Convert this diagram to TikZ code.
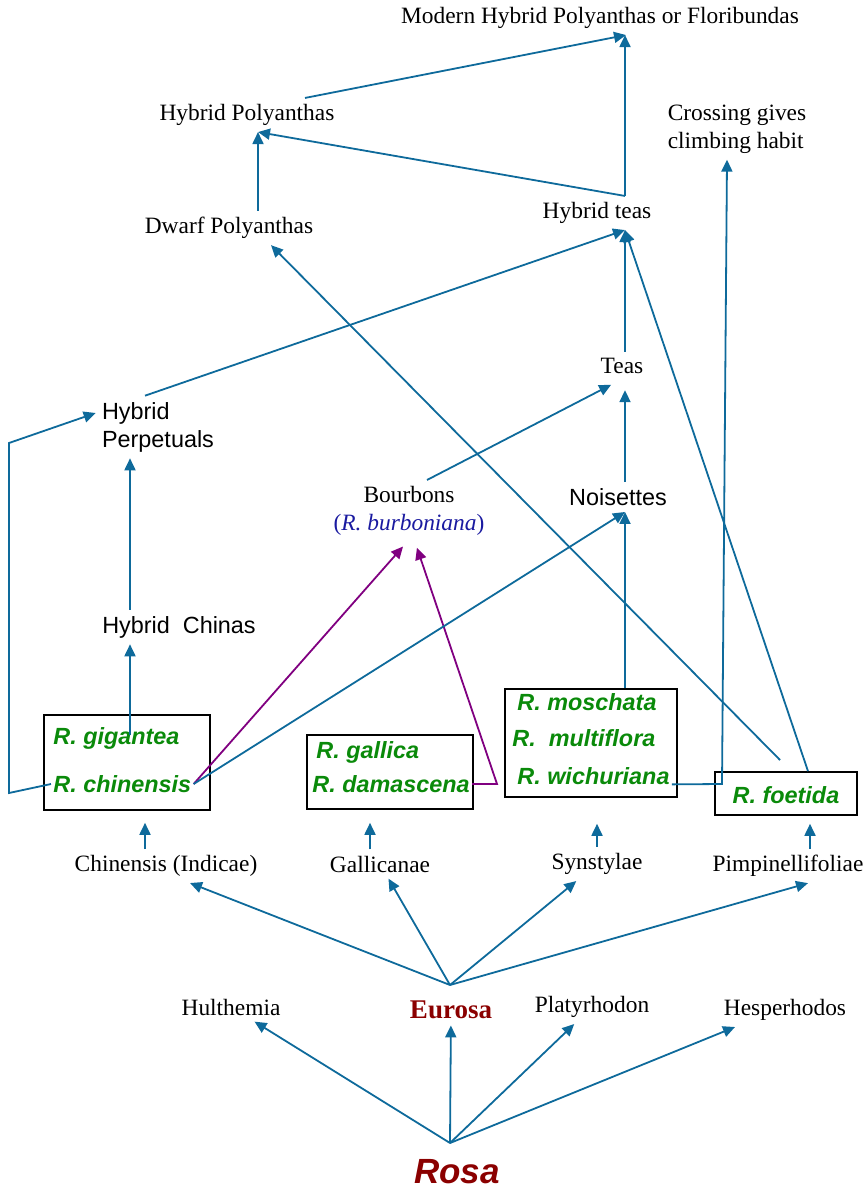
\documentclass[tikz,border=0pt]{standalone}
\usepackage{fontspec}
\setmainfont{Liberation Serif}
\setsansfont{Liberation Sans}
\usepackage{xcolor}
\definecolor{lineBlue}{HTML}{0E6A9B}
\definecolor{speciesGreen}{HTML}{0A8A0A}
\definecolor{rosaRed}{HTML}{8B0000}
\definecolor{hybridPurple}{HTML}{800080}
\definecolor{latinBlue}{HTML}{1A1AA0}
\usepackage{tikz}
\usetikzlibrary{arrows.meta, positioning}

\begin{document}
\begin{tikzpicture}[
    x=0.5pt, y=-0.5pt,
    font=\fontsize{11.7}{14}\selectfont,
    groupNode/.style={inner sep=3pt, align=center},
    sansNode/.style={inner sep=3pt, align=left, font=\fontsize{11.7}{14}\selectfont\sffamily},
    speciesNode/.style={inner sep=1pt, anchor=west, font=\fontsize{11.7}{14}\selectfont\sffamily\bfseries\itshape\color{speciesGreen}},
    boxNode/.style={draw, line width=0.8pt, inner sep=0pt},
    arrLine/.style={-{Triangle[length=6pt, width=5.5pt]}, line width=0.9pt, color=lineBlue},
    purpLine/.style={arrLine, color=hybridPurple}
]
\useasboundingbox (0,0) rectangle (864,1192);

% Species boxes
\node[boxNode, minimum width=83pt, minimum height=47.5pt] (box1) at (127,762.5) {};
\node[boxNode, minimum width=83pt, minimum height=37pt] (box2) at (390,772) {};
\node[boxNode, minimum width=86pt, minimum height=54pt] (box3) at (591,743) {};
\node[boxNode, minimum width=71pt, minimum height=21.5pt] (box4) at (786,793.5) {};

\node[speciesNode] (gigantea) at (51,738) {R. gigantea};
\node[speciesNode] (chinensis) at (51,784) {R. chinensis};
\node[speciesNode] (gallica) at (314,752) {R. gallica};
\node[speciesNode] (damascena) at (310,784) {R. damascena};
\node[speciesNode] (moschata) at (515,702) {R. moschata};
\node[speciesNode] (multiflora) at (510,738) {R.\ \ multiflora};
\node[speciesNode] (wichuriana) at (515,776) {R. wichuriana};
\node[speciesNode, anchor=center] (foetida) at (786,795) {R. foetida};

% Garden groups
\node[groupNode] (modern) at (600,18) {Modern Hybrid Polyanthas or Floribundas};
\node[groupNode] (hPoly) at (247,115) {Hybrid Polyanthas};
\node[groupNode, align=left] (crossing) at (737,129) {Crossing gives\\climbing habit};
\node[groupNode] (hTeas) at (597,213) {Hybrid teas};
\node[groupNode] (dwarf) at (229,228) {Dwarf Polyanthas};
\node[groupNode] (teas) at (622,366) {Teas};
\node[sansNode] (hPerp) at (158,427) {Hybrid\\Perpetuals};
\node[groupNode] (bourbons) at (409,511) {Bourbons\\{\color{latinBlue}(\textit{R. burboniana})}};
\node[sansNode] (noisettes) at (618,497) {Noisettes};
\node[sansNode] (hChinas) at (179,627) {Hybrid\ \ Chinas};

% Sections and subgenera
\node[groupNode] (chinSec) at (166,866) {Chinensis (Indicae)};
\node[groupNode] (gallSec) at (380,864) {Gallicanae};
\node[groupNode] (synSec) at (597,864) {Synstylae};
\node[groupNode] (pimpSec) at (788,866) {Pimpinellifoliae};

\node[groupNode] (hulthemia) at (231,1007) {Hulthemia};
\node[groupNode, font=\fontsize{13.5}{16}\selectfont\bfseries\color{rosaRed}] (eurosa) at (451,1010) {Eurosa};
\node[groupNode] (platy) at (592,1007) {Platyrhodon};
\node[groupNode] (hesper) at (785,1010) {Hesperhodos};
\node[groupNode, font=\fontsize{17.5}{20}\selectfont\sffamily\bfseries\itshape\color{rosaRed}] (rosa) at (457,1172) {Rosa};

\coordinate (rosaHub) at (450,1143);
\coordinate (eurosaHub) at (450,985);

% Rosa to subgenera, Eurosa to sections
\foreach \target in {hulthemia, eurosa, platy}
    \draw[arrLine] (rosaHub) -- (\target);
\draw[arrLine] (rosaHub) -- ([xshift=-25pt]hesper.south);
\draw[arrLine] (eurosaHub) -- ([xshift=12pt]chinSec.south);
\draw[arrLine] (eurosaHub) -- (gallSec);
\draw[arrLine] (eurosaHub) -- (synSec);
\draw[arrLine] (eurosaHub) -- ([xshift=10pt]pimpSec.south);

\foreach \sec/\grp/\dx/\gap in {chinSec/box1/-10.5pt/6pt, gallSec/box2/-5pt/6.5pt, synSec/box3/0pt/13pt, pimpSec/box4/11pt/4pt} {
    \path ([xshift=\dx]\sec.north) coordinate (up-\sec);
    \draw[arrLine, shorten >=\gap] (up-\sec) -- (up-\sec |- \grp.south);
}

% China line
\coordinate (gigStem) at (130,735);
\draw[arrLine] (gigStem) -- (gigStem |- hChinas.south);
\draw[arrLine] (hChinas.north -| gigStem) -- (hPerp.south -| gigStem);
\coordinate (loopLow) at (9,793);
\coordinate (loopHigh) at (9,443);
\draw[arrLine] (chinensis.west) -- (loopLow) -- (loopHigh) -- ([yshift=7pt]hPerp.west);
\draw[arrLine] ([xshift=-6.5pt]hPerp.north) -- ([xshift=14pt]hTeas.south);

% Bourbons and Noisettes
\draw[purpLine, shorten >=3pt] (chinensis.east) -- ([xshift=-1pt]bourbons.south);
\coordinate (damCorner) at (497,784);
\draw[purpLine, shorten >=3pt] (damascena.east) -- (damCorner) -- ([xshift=3pt]bourbons.south);
\draw[arrLine] (chinensis.east) -- ([xshift=3.5pt]noisettes.south);
\draw[arrLine] ([xshift=17pt]box3.north) -- ([xshift=3.5pt]noisettes.south);
\draw[arrLine, shorten >=5pt] ([xshift=3.5pt]noisettes.north) -- ([xshift=1.5pt]teas.south);
\draw[arrLine, shorten >=5pt] ([xshift=9pt]bourbons.north) -- ([xshift=-1pt]teas.south);
\draw[arrLine] ([xshift=1.5pt]teas.north) -- ([xshift=14pt]hTeas.south);

% Foetida and climbers
\draw[arrLine] ([xshift=11pt]box4.north) -- ([xshift=14pt]hTeas.south);
\coordinate (dwarfStart) at (780,760);
\draw[arrLine] (dwarfStart) -- ([xshift=21pt]dwarf.south);
\coordinate (wichCorner) at (722,784);
\draw[arrLine] (wichuriana.base east) -- (wichCorner) -- ([xshift=-5pt]crossing.south);

% Polyanthas and Floribundas
\path ([xshift=14pt]hTeas.north) coordinate (htTop);
\draw[arrLine] (htTop) -- (htTop |- modern.south);
\draw[arrLine] (htTop) -- ([xshift=5.5pt]hPoly.south);
\draw[arrLine] ([xshift=14.5pt]dwarf.north) -- ([xshift=5.5pt]hPoly.south);
\draw[arrLine] ([xshift=29pt]hPoly.north) -- ([xshift=13pt]modern.south);

\end{tikzpicture}
\end{document}
